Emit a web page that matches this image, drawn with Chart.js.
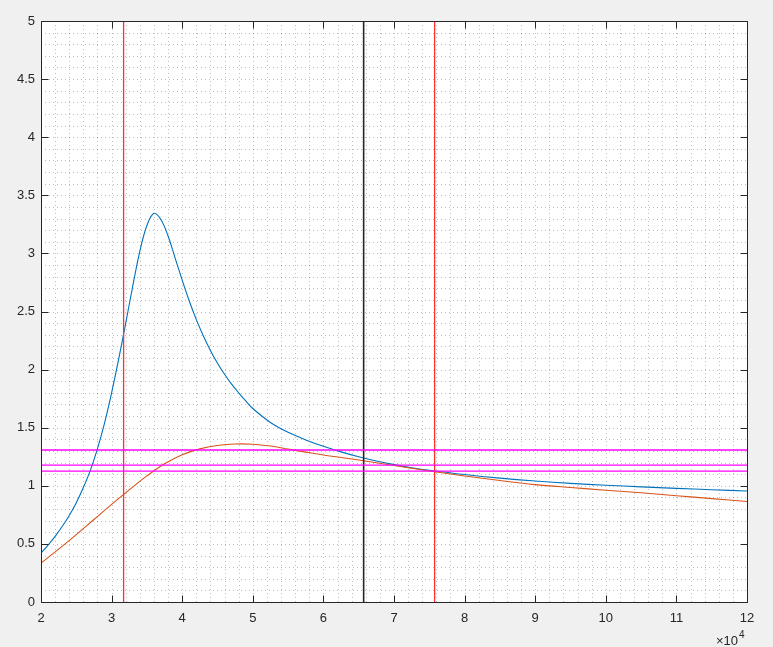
<!DOCTYPE html>
<html>
<head>
<meta charset="utf-8">
<script src="https://cdn.jsdelivr.net/npm/chart.js@4"></script>
<style>
  html, body { margin: 0; padding: 0; background: #f0f0f0; }
  canvas { display: block; }
</style>
</head>
<body>
<canvas id="c" width="773" height="647"></canvas>
<script>
// ---- data ----
const blueX = [2.0,2.1,2.2,2.3,2.4,2.5,2.6,2.7,2.8,2.9,3.0,3.1,3.2,3.3,3.4,3.5,3.6,3.7,3.8,3.9,4.0,4.1,4.2,4.3,4.4,4.5,4.6,4.7,4.8,4.9,5.0,5.25,5.5,5.75,6.0,6.25,6.5,6.75,7.0,7.25,7.5,8.0,8.5,9.0,9.5,10,10.5,11,11.5,12];
const blueY = [0.42,0.49,0.565,0.65,0.745,0.855,0.985,1.135,1.32,1.54,1.80,2.09,2.40,2.72,3.02,3.24,3.345,3.29,3.15,2.96,2.77,2.59,2.43,2.29,2.165,2.055,1.96,1.875,1.80,1.73,1.665,1.545,1.46,1.395,1.34,1.292,1.25,1.213,1.182,1.156,1.134,1.097,1.066,1.041,1.021,1.005,0.991,0.978,0.966,0.955];
const orangeX = [2.0,2.25,2.5,2.75,3.0,3.25,3.5,3.75,4.0,4.25,4.5,4.75,5.0,5.25,5.5,5.75,6.0,6.25,6.5,7.0,7.5,8.0,8.5,9.0,9.5,10,10.5,11,11.5,12];
const orangeY = [0.335,0.455,0.58,0.71,0.84,0.965,1.085,1.19,1.268,1.318,1.347,1.36,1.358,1.342,1.316,1.29,1.265,1.244,1.222,1.175,1.128,1.085,1.045,1.01,0.985,0.962,0.94,0.915,0.89,0.865];
const vLineX = [3.17, 6.57, 7.575];
const hLineY = [1.308, 1.178, 1.127];
const xTickLabels = ['2','3','4','5','6','7','8','9','10','11','12'];
const yTickLabels = ['0','0.5','1','1.5','2','2.5','3','3.5','4','4.5','5'];
const xExponentLabel = '\u00d710';
const xExponent = '4';

// ---- styles ----
const vLineColors = ['#ff3030', '#262626', '#ff3030'];
const axisColor = '#262626';
const FONT = '"Liberation Sans", Arial, Helvetica, sans-serif';

const pts = (xs, ys) => xs.map((x, i) => ({x: x, y: ys[i]}));

const datasets = [];
hLineY.forEach(y => datasets.push({
  data: [{x: 2, y: y}, {x: 12, y: y}], borderColor: '#ff00ff', borderWidth: 1.3,
  showLine: true, pointRadius: 0, tension: 0, order: 0
}));
vLineX.forEach((x, i) => datasets.push({
  data: [{x: x, y: 0}, {x: x, y: 5}], borderColor: vLineColors[i], borderWidth: i === 1 ? 1.6 : 1.3,
  showLine: true, pointRadius: 0, tension: 0, order: 0
}));
datasets.push({
  data: pts(orangeX, orangeY), borderColor: '#D95319', borderWidth: 1.1,
  showLine: true, pointRadius: 0, tension: 0.35, order: 1
});
datasets.push({
  data: pts(blueX, blueY), borderColor: '#0072BD', borderWidth: 1.1,
  showLine: true, pointRadius: 0, tension: 0.35, order: 2
});

const matlabAxes = {
  id: 'matlabAxes',
  beforeDatasetsDraw(chart) {
    const {ctx, chartArea: a, scales: {x, y}} = chart;
    ctx.save();
    ctx.fillStyle = '#ffffff';
    ctx.fillRect(a.left, a.top, a.right - a.left, a.bottom - a.top);
    // minor dotted grid
    ctx.strokeStyle = 'rgba(38,38,38,0.3)';
    ctx.lineWidth = 1;
    ctx.setLineDash([1, 3]);
    for (let i = 1; i < 50; i++) {
      const px = Math.round(x.getPixelForValue(2 + i * 0.2)) + 0.5;
      ctx.beginPath(); ctx.moveTo(px, a.top); ctx.lineTo(px, a.bottom); ctx.stroke();
    }
    for (let i = 1; i < 50; i++) {
      const py = Math.round(y.getPixelForValue(i * 0.1)) + 0.5;
      ctx.beginPath(); ctx.moveTo(a.left, py); ctx.lineTo(a.right, py); ctx.stroke();
    }
    ctx.restore();
  },
  afterDatasetsDraw(chart) {
    const {ctx, chartArea: a, scales: {x, y}} = chart;
    ctx.save();
    ctx.strokeStyle = axisColor;
    ctx.lineWidth = 1;
    ctx.setLineDash([]);
    const L = Math.round(a.left) + 0.5, R = Math.round(a.right) + 0.5;
    const T = Math.round(a.top) + 0.5, B = Math.round(a.bottom) + 0.5;
    ctx.beginPath();
    ctx.moveTo(L, T); ctx.lineTo(R, T); ctx.lineTo(R, B); ctx.lineTo(L, B); ctx.closePath();
    ctx.stroke();
    const tl = 7;
    xTickLabels.forEach(lbl => {
      const px = Math.round(x.getPixelForValue(parseFloat(lbl))) + 0.5;
      ctx.beginPath();
      ctx.moveTo(px, B); ctx.lineTo(px, B - tl);
      ctx.moveTo(px, T); ctx.lineTo(px, T + tl);
      ctx.stroke();
    });
    yTickLabels.forEach(lbl => {
      const py = Math.round(y.getPixelForValue(parseFloat(lbl))) + 0.5;
      ctx.beginPath();
      ctx.moveTo(L, py); ctx.lineTo(L + tl, py);
      ctx.moveTo(R, py); ctx.lineTo(R - tl, py);
      ctx.stroke();
    });
    // exponent label
    ctx.fillStyle = axisColor;
    ctx.textBaseline = 'alphabetic';
    ctx.textAlign = 'left';
    ctx.font = '13px ' + FONT;
    const w = ctx.measureText(xExponentLabel).width;
    const ex0 = a.right - 31;
    ctx.fillText(xExponentLabel, ex0, 645);
    ctx.font = '10px ' + FONT;
    ctx.fillText(xExponent, ex0 + w + 1, 638);
    ctx.restore();
  }
};

new Chart(document.getElementById('c'), {
  type: 'scatter',
  data: { datasets: datasets },
  options: {
    responsive: false,
    devicePixelRatio: 1,
    animation: false,
    events: [],
    layout: { padding: { left: 0, top: 21, right: 26, bottom: 0 } },
    plugins: { legend: { display: false }, tooltip: { enabled: false } },
    scales: {
      x: {
        type: 'linear', min: 2, max: 12,
        afterFit: s => { s.height = 45; },
        afterBuildTicks: s => { s.ticks = xTickLabels.map(l => ({value: parseFloat(l)})); },
        grid: { display: false, drawTicks: false },
        border: { display: false },
        ticks: {
          padding: 9, color: axisColor, font: { family: FONT, size: 13 },
          maxRotation: 0, autoSkip: false,
          callback: (v) => xTickLabels.find(l => parseFloat(l) === v) || ''
        }
      },
      y: {
        type: 'linear', min: 0, max: 5,
        afterFit: s => { s.width = 41; },
        afterBuildTicks: s => { s.ticks = yTickLabels.map(l => ({value: parseFloat(l)})); },
        grid: { display: false, drawTicks: false },
        border: { display: false },
        ticks: {
          padding: 6, color: axisColor, font: { family: FONT, size: 13 },
          autoSkip: false,
          callback: (v) => yTickLabels.find(l => parseFloat(l) === v) || ''
        }
      }
    }
  },
  plugins: [matlabAxes]
});
</script>
</body>
</html>
